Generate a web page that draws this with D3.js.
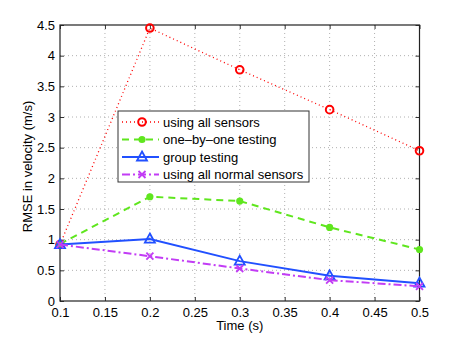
<!DOCTYPE html>
<html>
<head>
<meta charset="utf-8">
<script src="https://cdn.jsdelivr.net/npm/d3@7"></script>
<style>
  body { margin: 0; background: #fff; }
  text { font-family: "Liberation Sans", Arial, sans-serif; }
</style>
</head>
<body>
<svg class="chart"></svg>
<script>
var times = [0.1, 0.2, 0.3, 0.4, 0.5]
var allSensors = [0.92, 4.45, 3.77, 3.12, 2.45]
var oneByOne = [0.93, 1.70, 1.63, 1.20, 0.84]
var groupTesting = [0.92, 1.01, 0.65, 0.41, 0.29]
var allNormal = [0.92, 0.73, 0.53, 0.34, 0.24]
var seriesNames = ['using all sensors', 'one\u2013by\u2013one testing', 'group testing', 'using all normal sensors']
var xTicks = [0.1, 0.15, 0.2, 0.25, 0.3, 0.35, 0.4, 0.45, 0.5]
var yTicks = [0, 0.5, 1, 1.5, 2, 2.5, 3, 3.5, 4, 4.5]

var width = 463, height = 340;
var margin = { top: 25, right: 43.5, bottom: 39, left: 60 }
var w = width - margin.left - margin.right,
    h = height - margin.top - margin.bottom;

var svg = d3.select('.chart')
    .attr('width', width)
    .attr('height', height)

var chart = svg.append('g')
    .attr('transform', `translate(${margin.left}, ${margin.top})`);

var x = d3.scaleLinear().domain([0.1, 0.5]).range([0, w]);
var y = d3.scaleLinear().domain([0, 4.5]).range([h, 0]);

// grid
chart.append('g').selectAll('line')
    .data(xTicks.slice(1, -1))
    .enter().append('line')
    .attr('x1', function(d) { return x(d); })
    .attr('x2', function(d) { return x(d); })
    .attr('y1', 0).attr('y2', h)
    .attr('stroke', '#b0b0b0').attr('stroke-width', 1)
    .attr('stroke-dasharray', '1,3')
chart.append('g').selectAll('line')
    .data(yTicks.slice(1, -1))
    .enter().append('line')
    .attr('y1', function(d) { return y(d); })
    .attr('y2', function(d) { return y(d); })
    .attr('x1', 0).attr('x2', w)
    .attr('stroke', '#b0b0b0').attr('stroke-width', 1)
    .attr('stroke-dasharray', '1,3')

function styleAxis(g) {
  g.select('.domain').remove()
  g.selectAll('.tick line').attr('stroke', '#333')
  g.selectAll('.tick text')
    .attr('font-size', 13)
    .attr('fill', '#000')
    .attr('font-family', '"Liberation Sans", Arial, sans-serif')
}

chart.append('g')
    .attr('transform', `translate(0, ${h})`)
    .call(d3.axisBottom(x).tickValues(xTicks).tickFormat(d3.format('')).tickSizeInner(-4).tickPadding(7))
    .call(styleAxis)
chart.append('g')
    .call(d3.axisTop(x).tickValues(xTicks).tickFormat('').tickSizeInner(-4))
    .call(styleAxis)
chart.append('g')
    .call(d3.axisLeft(y).tickValues(yTicks).tickFormat(d3.format('')).tickSizeInner(-4).tickPadding(5))
    .call(styleAxis)
chart.append('g')
    .attr('transform', `translate(${w}, 0)`)
    .call(d3.axisRight(y).tickValues(yTicks).tickFormat('').tickSizeInner(-4))
    .call(styleAxis)

chart.append('rect')
    .attr('x', 0).attr('y', 0).attr('width', w).attr('height', h)
    .attr('fill', 'none').attr('stroke', '#222').attr('stroke-width', 1.2)

var series = [
  { name: seriesNames[0], values: allSensors, color: '#ff0000', dash: '1,3', lw: 1.3, marker: 'circle' },
  { name: seriesNames[1], values: oneByOne, color: '#5fe61e', dash: '7,5', lw: 2, marker: 'dot' },
  { name: seriesNames[2], values: groupTesting, color: '#2150ff', dash: null, lw: 2, marker: 'triangle' },
  { name: seriesNames[3], values: allNormal, color: '#c23cf5', dash: '8,3,2,3', lw: 2, marker: 'cross' }
]

var line = d3.line()
    .x(function(d) { return x(d[0]); })
    .y(function(d) { return y(d[1]); })

function drawMarker(g, type, color) {
  if (type === 'circle') {
    g.append('circle').attr('r', 3.8).attr('fill', 'none').attr('stroke', color).attr('stroke-width', 2)
  } else if (type === 'dot') {
    g.append('circle').attr('r', 3.6).attr('fill', color)
  } else if (type === 'triangle') {
    g.append('path').attr('d', 'M0,-5.5L5,3.5L-5,3.5Z').attr('fill', 'none').attr('stroke', color).attr('stroke-width', 1.8)
  } else {
    g.append('path').attr('d', 'M-3.5,-3.5L3.5,3.5M-3.5,3.5L3.5,-3.5').attr('stroke', color).attr('stroke-width', 1.8)
  }
}

series.forEach(function(s) {
  var pts = times.map(function(t, i) { return [t, s.values[i]]; })
  chart.append('path')
      .datum(pts)
      .attr('d', line)
      .attr('fill', 'none')
      .attr('stroke', s.color)
      .attr('stroke-width', s.lw)
      .attr('stroke-dasharray', s.dash)
  pts.forEach(function(p) {
    var g = chart.append('g').attr('transform', `translate(${x(p[0])}, ${y(p[1])})`)
    drawMarker(g, s.marker, s.color)
  })
})

// legend
var legend = svg.append('g').attr('transform', 'translate(118, 111)')
legend.append('rect')
    .attr('width', 191).attr('height', 71)
    .attr('fill', '#fff').attr('stroke', '#333').attr('stroke-width', 1)
series.forEach(function(s, i) {
  var row = legend.append('g').attr('transform', `translate(0, ${11 + i * 17.5})`)
  row.append('line')
      .attr('x1', 4).attr('x2', 41)
      .attr('stroke', s.color).attr('stroke-width', s.lw)
      .attr('stroke-dasharray', s.dash)
  drawMarker(row.append('g').attr('transform', 'translate(24, 0)'), s.marker, s.color)
  row.append('text')
      .attr('x', 45).attr('y', 4.5)
      .attr('font-size', 13)
      .text(s.name)
})

// axis titles
svg.append('text')
    .attr('x', margin.left + w / 2).attr('y', 329.5)
    .attr('text-anchor', 'middle').attr('font-size', 13)
    .text('Time (s)')
svg.append('text')
    .attr('transform', 'translate(32, 166.5) rotate(-90)')
    .attr('text-anchor', 'middle').attr('font-size', 13)
    .text('RMSE in velocity (m/s)')
</script>
</body>
</html>
